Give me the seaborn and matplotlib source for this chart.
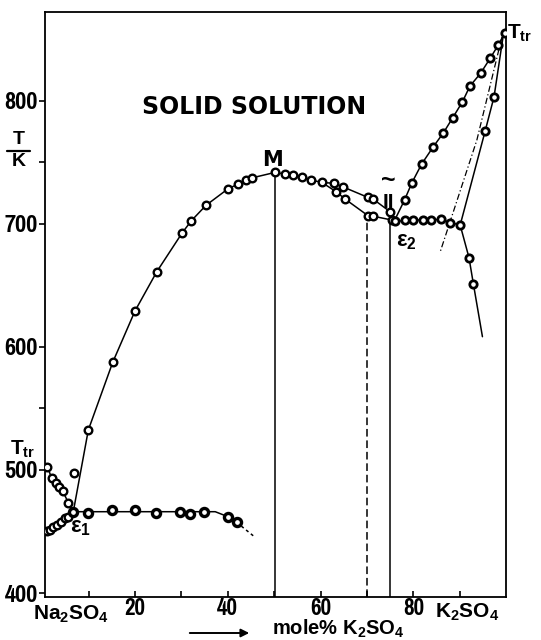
import matplotlib
matplotlib.use("Agg")
import matplotlib.pyplot as plt
import seaborn as sns
from matplotlib import font_manager as fm
from matplotlib.lines import Line2D
from matplotlib.transforms import blended_transform_factory

# ---------------- data (mole % K2SO4, T / K) ----------------
# Na2SO4 transition branch: Ttr -> eutectic e1
trans_x = [1.1, 2.05, 2.98, 3.62, 4.42, 5.63, 6.7]
trans_y = [502.7, 493.3, 489.2, 486.0, 482.9, 473.4, 466.1]
# lower branch rising to e1
low_x = [0.97, 1.68, 2.39, 3.26, 3.99, 4.92, 5.63, 6.7]
low_y = [450.4, 451.3, 453.5, 455.3, 458.0, 460.8, 462.1, 466.1]
# liquidus e1 -> M
liqL_x = [6.7, 9.94, 15.2, 20.0, 24.7, 30.2, 32.15, 35.3, 40.0, 42.1, 43.9, 45.3, 50.1]
liqL_y = [466.1, 532.5, 587.5, 629.2, 661.1, 692.8, 702.5, 715.0, 728.3, 732.1, 735.3, 737.4, 741.7]
# isolated point
iso_x = [6.86]
iso_y = [497.3]
# eutectic e1 horizontal line
eut1_line_x = [6.7, 37.3, 40.0, 41.9]
eut1_line_y = [466.1, 466.1, 462.1, 457.5]
eut1_tail_x = [41.9, 45.9]
eut1_tail_y = [457.5, 445.3]
eut1_pts_x = [6.7, 9.94, 15.0, 20.0, 24.5, 29.7, 31.9, 34.8, 40.0, 41.9]
eut1_pts_y = [466.1, 465.3, 467.5, 467.5, 465.3, 466.1, 464.2, 466.1, 462.1, 457.5]
# M -> split
top_x = [50.1, 52.35, 54.1, 55.95, 58.0, 60.3]
top_y = [741.7, 740.5, 739.6, 738.3, 735.6, 733.6]
# upper branch -> II
up_x = [60.3, 63.0, 64.9, 70.2, 71.4, 75.0]
up_y = [733.6, 732.9, 729.9, 721.5, 719.9, 709.8]
# lower branch -> e2
lo_x = [60.3, 63.35, 65.3, 70.2, 71.2, 75.35]
lo_y = [733.6, 726.1, 720.1, 706.7, 706.3, 703.1]
# eutectic e2 horizontal
eut2_x = [75.35, 76.1, 78.2, 80.0, 82.0, 83.8, 86.0, 88.0, 90.1]
eut2_y = [703.1, 701.9, 702.7, 703.1, 703.1, 703.3, 703.6, 701.0, 699.0]
# descending branch below e2 end
desc_x = [90.1, 92.0, 92.95, 94.9]
desc_y = [699.0, 672.5, 651.1, 608.3]
desc_pts_x = [92.0, 92.95]
desc_pts_y = [672.5, 651.1]
# liquidus e2 -> Ttr(K2SO4)
liqR_x = [75.9, 78.1, 79.7, 81.8, 84.3, 86.5, 88.5, 90.6, 92.2, 94.5, 96.55, 98.3, 99.8]
liqR_y = [702.3, 719.3, 733.4, 748.6, 762.6, 774.0, 786.2, 799.2, 811.9, 822.3, 834.4, 845.2, 855.2]
# solid line Ttr -> end of e2
sol_x = [99.4, 97.4, 95.5, 90.1]
sol_y = [853.4, 803.2, 775.6, 699.0]
sol_pts_x = [97.4, 95.5]
sol_pts_y = [803.2, 775.6]
# dash-dot line
dd_x = [99.1, 93.7, 85.8]
dd_y = [851.7, 768.1, 677.3]
# vertical lines (x, top T)
vM = (50.1, 741.7)
vDash = (70.0, 706.5)
vII = (75.0, 709.8)

xticks = [20, 40, 60, 80]
xminor = [10, 30, 50, 70, 90]
yticks = [400, 500, 600, 700, 800]
yminor = [550, 750]
XLIM = (0.6, 100.0)
YLIM = (396.8, 872.1)

# ---------------- style ----------------
sns.set_theme(style="ticks")
plt.rcParams["font.family"] = ["Liberation Sans", "DejaVu Sans"]
plt.rcParams["font.weight"] = "bold"
plt.rcParams["text.color"] = "black"
plt.rcParams["axes.labelcolor"] = "black"
plt.rcParams["xtick.color"] = "black"
plt.rcParams["ytick.color"] = "black"
plt.rcParams["mathtext.fontset"] = "custom"
plt.rcParams["mathtext.rm"] = "Liberation Sans:bold"
plt.rcParams["mathtext.it"] = "Liberation Sans:bold"
plt.rcParams["mathtext.bf"] = "Liberation Sans:bold"
plt.rcParams["mathtext.default"] = "bf"


def find_condensed_bold():
    best = None
    for f in fm.fontManager.ttflist:
        w = f.weight
        if isinstance(w, str):
            w = fm.weight_dict.get(w, 400)
        st = str(f.stretch)
        narrow = ("Narrow" in f.name or "Condensed" in f.name or
                  st in ("condensed", "semi-condensed", "extra-condensed"))
        if narrow and w >= 600 and f.style == "normal":
            if best is None or "Narrow" in f.name:
                best = f
    return best


cand = find_condensed_bold()
if cand is not None:
    YTICKFP = fm.FontProperties(fname=cand.fname, size=19)
    XTICKFP = fm.FontProperties(fname=cand.fname, size=18)
else:
    YTICKFP = fm.FontProperties(family="DejaVu Sans", weight="bold", size=12)
    XTICKFP = fm.FontProperties(family="DejaVu Sans", weight="bold", size=12)

fig = plt.figure(figsize=(5.41, 6.40), dpi=100)
ax = fig.add_axes([45 / 541, 1 - 597 / 640, 461.1 / 541, 585 / 640])
ax.set_facecolor("white")
fig.patch.set_facecolor("white")

LW = 1.1
K = "black"


def line(x, y, ls="-", lw=LW):
    sns.lineplot(x=x, y=y, sort=False, estimator=None, color=K, lw=lw,
                 linestyle=ls, ax=ax, legend=False)


def pts(x, y, s=30, ew=1.7, fc="white"):
    sns.scatterplot(x=x, y=y, marker="o", s=s, color=fc, edgecolor=K,
                    linewidth=ew, ax=ax, legend=False, zorder=5)


line(trans_x, trans_y)
line(low_x, low_y)
line(liqL_x, liqL_y)
line(eut1_line_x, eut1_line_y)
line(eut1_tail_x, eut1_tail_y, ls=(0, (2, 2)))
line(top_x, top_y)
line(up_x, up_y)
line(lo_x, lo_y)
line(eut2_x, eut2_y)
line(desc_x, desc_y)
line(liqR_x, liqR_y)
line(sol_x, sol_y)
line(dd_x, dd_y, ls=(0, (5, 2, 1, 2)), lw=0.9)

ax.vlines(vM[0], YLIM[0], vM[1], color=K, lw=LW)
ax.vlines(vDash[0], YLIM[0], vDash[1], color=K, lw=LW, linestyles=[(0, (5, 2.5))])
ax.vlines(vII[0], YLIM[0], vII[1], color=K, lw=LW)

pts(trans_x[:-1], trans_y[:-1])
pts(low_x[:-1], low_y[:-1])
pts(liqL_x[1:], liqL_y[1:])
pts(iso_x, iso_y)
pts(eut1_pts_x, eut1_pts_y, s=34, ew=2.4)
pts(top_x[1:], top_y[1:])
pts(up_x[1:], up_y[1:])
pts(lo_x[1:], lo_y[1:])
pts(eut2_x[1:], eut2_y[1:], s=28, ew=2.0)
pts(desc_pts_x, desc_pts_y, s=28, ew=2.0)
pts(liqR_x[1:], liqR_y[1:], s=28, ew=2.0)
pts(sol_pts_x, sol_pts_y, s=28, ew=2.0)

ax.set_xlim(*XLIM)
ax.set_ylim(*YLIM)
ax.set_xticks(xticks)
ax.set_xticks(xminor, minor=True)
ax.set_yticks(yticks)
ax.set_yticks(yminor, minor=True)
ax.set_xlabel("")
ax.set_ylabel("")
for sp in ax.spines.values():
    sp.set_visible(True)
    sp.set_linewidth(1.3)
    sp.set_color(K)
ax.tick_params(axis="x", which="both", direction="in", length=4, width=1.2,
               pad=1, colors=K)
ax.tick_params(axis="y", which="both", direction="out", length=4, width=1.2,
               pad=1, colors=K)
for lbl in ax.get_xticklabels():
    lbl.set_fontproperties(XTICKFP)
for lbl in ax.get_yticklabels():
    lbl.set_fontproperties(YTICKFP)

# ---------------- text ----------------
ax.text(45.7, 794.9, "SOLID SOLUTION", family="DejaVu Sans", weight="bold",
        fontsize=17, ha="center", va="center")
ax.text(49.7, 752.2, "M", family="DejaVu Sans", weight="bold", fontsize=15,
        ha="center", va="center")
ax.text(8.15, 453.3, r"ε$_1$", fontsize=16, ha="center", va="center")
ax.text(78.4, 686.0, r"ε$_2$", fontsize=16, ha="center", va="center")
ax.text(74.7, 717.0, "II", fontsize=15, weight="bold", ha="center",
        va="center")
ax.text(74.7, 735.0, "~", fontsize=18, ha="center", va="center")
ax.text(100.2, 854.6, r"T$_{tr}$", fontsize=15, ha="left", va="center",
        clip_on=False)
ax.text(-6.9, 517.1, r"T$_{tr}$", fontsize=15, ha="left", va="center",
        clip_on=False)

tb = blended_transform_factory(ax.transData, ax.transAxes)
ax.text(-2.0, -0.030, r"Na$_2$SO$_4$", fontsize=15, ha="left", va="center",
        transform=tb, clip_on=False)
ax.text(91.6, -0.027, r"K$_2$SO$_4$", fontsize=15, ha="center", va="center",
        transform=tb, clip_on=False)

# y-axis label T/K as a fraction
fig.text(19 / 541, 1 - 140 / 640, "T", fontsize=14, weight="bold",
         ha="center", va="center")
fig.text(19 / 541, 1 - 162 / 640, "K", fontsize=14, weight="bold",
         ha="center", va="center")
fig.add_artist(Line2D([7 / 541, 30 / 541], [1 - 151 / 640, 1 - 151 / 640],
                      color=K, lw=1.6, transform=fig.transFigure))

# x-axis label with arrow
ax.annotate("", xy=(252 / 541, 1 - 633 / 640), xytext=(187 / 541, 1 - 633 / 640),
            xycoords="figure fraction", textcoords="figure fraction",
            arrowprops=dict(arrowstyle="-|>", color=K, lw=1.4,
                            mutation_scale=12))
fig.text(338 / 541, 1 - 628.5 / 640, r"mole% K$_2$SO$_4$", fontsize=14.5,
         weight="bold", ha="center", va="center")

fig.savefig("out.png", dpi=100, facecolor="white")
